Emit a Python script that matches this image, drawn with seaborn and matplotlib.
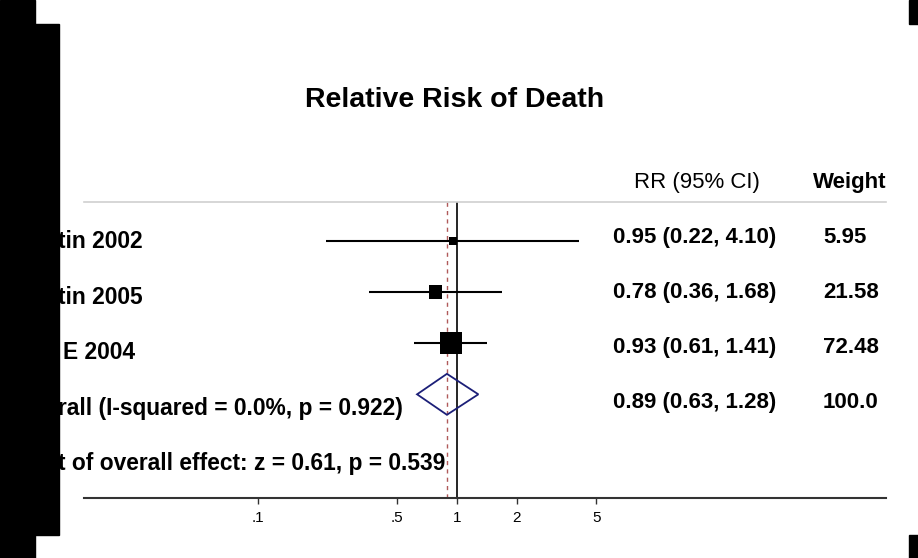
import numpy as np
import pandas as pd
import matplotlib
matplotlib.use("Agg")
import matplotlib.pyplot as plt
import seaborn as sns
from matplotlib.patches import Rectangle, Polygon
from matplotlib.ticker import NullLocator

# study rows (left labels are cut off in the source screenshot)
studies = ["tin 2002", "tin 2005", "E 2004"]
rr = [0.95, 0.78, 0.93]
ci_low = [0.22, 0.36, 0.61]
ci_high = [4.10, 1.68, 1.41]
weights = [5.95, 21.58, 72.48]

# pooled estimate
pooled_rr = 0.89
pooled_low = 0.63
pooled_high = 1.28
pooled_label = "rall (I-squared = 0.0%, p = 0.922)"
test_label = "t of overall effect: z = 0.61, p = 0.539"

tick_values = [0.1, 0.5, 1, 2, 5]
tick_labels = [".1", ".5", "1", "2", "5"]

W, H = 918, 558


def fx(x):
    return x / W


def fy(y):
    return 1 - y / H


sns.set_style("white")
plt.rcParams["font.family"] = ["Liberation Sans", "DejaVu Sans"]
plt.rcParams["text.color"] = "black"
plt.rcParams["xtick.color"] = "black"

fig = plt.figure(figsize=(W / 100, H / 100), dpi=100)
ax = fig.add_axes([fx(84), fy(498), (886 - 84) / W, (498 - 202) / H])

df = pd.DataFrame({"study": studies, "rr": rr, "low": ci_low,
                   "high": ci_high, "weight": weights})
df["row"] = np.arange(len(df))

# box side grows with weight
box_pt = 3.92 * df["weight"].to_numpy() ** 0.4 * 72 / 100

ax.hlines(df["row"], df["low"], df["high"], color="black", lw=1.5, zorder=2)
sns.scatterplot(data=df, x="rr", y="row", marker="s", color="black",
                s=box_pt ** 2, linewidth=0, legend=False, ax=ax, zorder=3)

prow = len(df)
diamond = Polygon([(pooled_low, prow), (pooled_rr, prow - 0.4),
                   (pooled_high, prow), (pooled_rr, prow + 0.4)],
                  closed=True, fill=False, edgecolor="#1c1f78", lw=1.3, zorder=3)
ax.add_patch(diamond)

ax.axvline(1, color="black", lw=1.2, zorder=1)
ax.axvline(pooled_rr, color="#b05a5a", lw=1, ls=(0, (3, 3)), zorder=1)

ax.set_xscale("log")
ax.set_xlim(10 ** (-373 / 199), 10 ** (429 / 199))
ax.set_ylim(5.025, -0.756)
ax.set_xticks(tick_values)
ax.set_xticklabels(tick_labels)
ax.xaxis.set_minor_locator(NullLocator())
ax.set_yticks([])
ax.set_xlabel("")
ax.set_ylabel("")
ax.grid(False)

for side in ["left", "right"]:
    ax.spines[side].set_visible(False)
ax.spines["top"].set_color("#d0d0d0")
ax.spines["top"].set_linewidth(1.2)
ax.spines["bottom"].set_color("#333333")
ax.spines["bottom"].set_linewidth(1.5)
ax.tick_params(axis="x", direction="out", length=4.5, width=1,
               color="#333333", labelcolor="black", labelsize=11, pad=4.5, bottom=True)

# title and column headers
fig.text(fx(455), fy(100), "Relative Risk of Death", ha="center", va="center",
         fontsize=20.5, fontweight="bold")
fig.text(fx(697), fy(183), "RR (95% CI)", ha="center", va="center", fontsize=16)
fig.text(fx(850), fy(182), "Weight", ha="center", va="center",
         fontsize=16, fontweight="bold")

# left labels
left_labels = studies + [pooled_label, test_label]
for i, lab in enumerate(left_labels):
    x0 = 63 if lab.startswith("E") else 58
    fig.text(fx(x0), fy(240 + 55.5 * i) - 8 / H, lab, ha="left", va="baseline",
             fontsize=16.4, fontweight="bold")

# right columns
ci_text = [f"{r:.2f} ({l:.2f}, {h:.2f})" for r, l, h in zip(rr, ci_low, ci_high)]
ci_text.append(f"{pooled_rr:.2f} ({pooled_low:.2f}, {pooled_high:.2f})")
w_text = [f"{w:.2f}" for w in weights] + [f"{sum(weights):.1f}"]
for i, (c, w) in enumerate(zip(ci_text, w_text)):
    y = fy(235 + 55 * i) - 8 / H
    fig.text(fx(613), y, c, ha="left", va="baseline", fontsize=16, fontweight="bold")
    fig.text(fx(823), y, w, ha="left", va="baseline", fontsize=16, fontweight="bold")

# black screenshot borders
for x0, y0, w, h in [(0, 0, 35, 558), (35, 24, 24, 511), (909, 0, 9, 24), (909, 535, 9, 23)]:
    fig.add_artist(Rectangle((fx(x0), fy(y0 + h)), w / W, h / H,
                             transform=fig.transFigure, color="black", zorder=10))

fig.savefig("out.png", dpi=100)
